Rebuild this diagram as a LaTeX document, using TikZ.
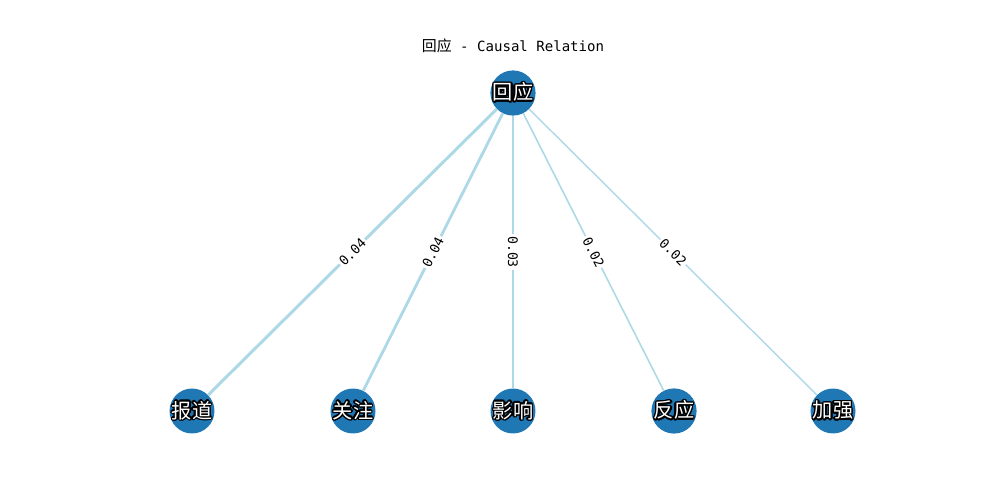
\documentclass[tikz,border=0pt]{standalone}
\usepackage{fontspec}
\usepackage{contour}
\newfontfamily\cjk{Noto Sans CJK SC}
\newfontfamily\monofont{DejaVu Sans Mono}
\contourlength{0.8pt}
\definecolor{nodeblue}{RGB}{31,119,180}
\definecolor{edgeblue}{RGB}{173,216,230}

\begin{document}
\begin{tikzpicture}[
    x=0.02cm, y=-0.02cm,
    word/.style={
        circle,
        fill=nodeblue,
        minimum size=0.88cm,
        inner sep=0pt,
        text=white,
        font=\cjk\fontsize{11.5}{12}\selectfont
    },
    link/.style={
        draw=edgeblue
    },
    weight/.style={
        sloped,
        fill=white,
        inner sep=1pt,
        font=\monofont\fontsize{7.5}{8}\selectfont
    }
]

\useasboundingbox (0,0) rectangle (1000,500);

\node (title) at (513,46)
    {{\cjk\fontsize{8.5}{9}\selectfont 回应}{\monofont\fontsize{8}{9}\selectfont\ - Causal Relation}};

\node[word] (huiying) at (513,93) {\contour{black}{回应}};

\node[word] (baodao) at (192,411) {\contour{black}{报道}};
\node[word] (guanzhu) at (353,411) {\contour{black}{关注}};
\node[word] (yingxiang) at (513,411) {\contour{black}{影响}};
\node[word] (fanying) at (674,411) {\contour{black}{反应}};
\node[word] (jiaqiang) at (833,411) {\contour{black}{加强}};

\draw[link, line width=1.7pt] (huiying) -- node[weight] {0.04} (baodao);
\draw[link, line width=1.6pt] (huiying) -- node[weight] {0.04} (guanzhu);
\draw[link, line width=1.3pt] (huiying) -- node[weight] {0.03} (yingxiang);
\draw[link, line width=0.9pt] (huiying) -- node[weight] {0.02} (fanying);
\draw[link, line width=0.8pt] (huiying) -- node[weight] {0.02} (jiaqiang);

\end{tikzpicture}
\end{document}
